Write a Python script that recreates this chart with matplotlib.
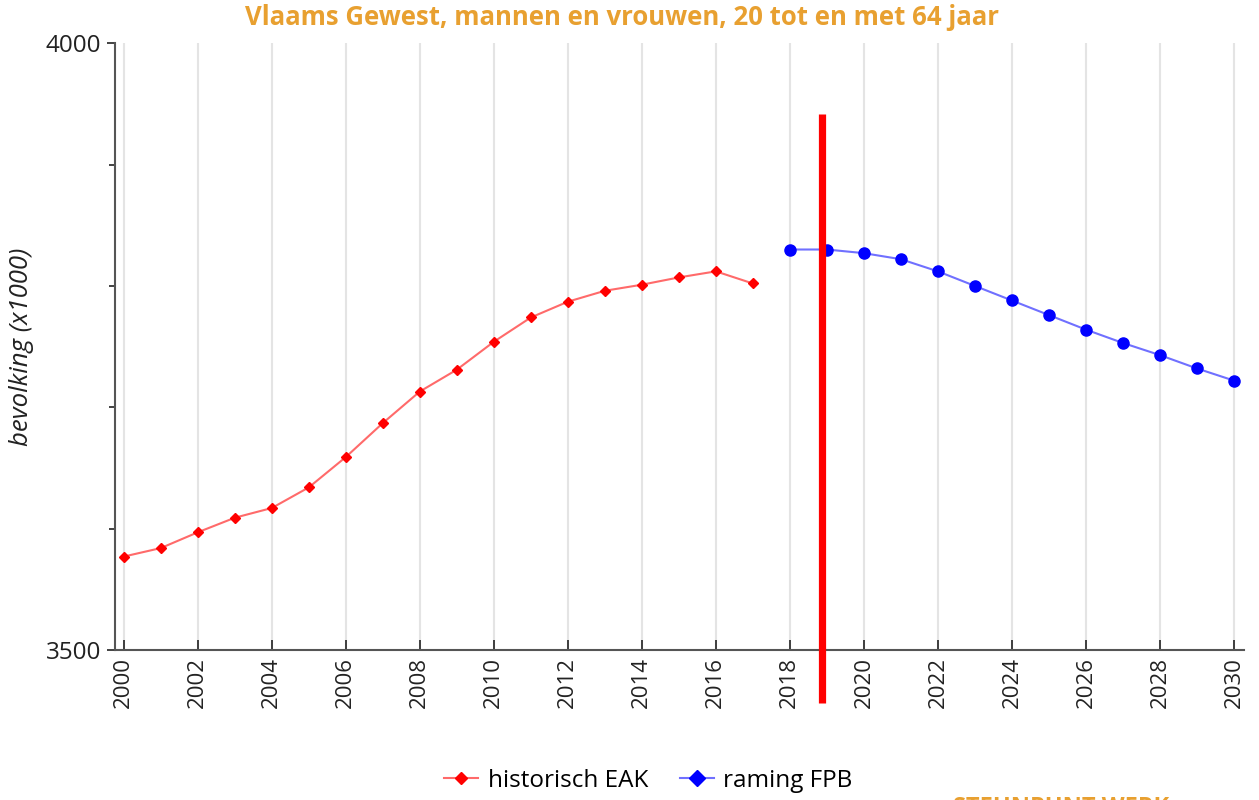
import matplotlib
matplotlib.use("Agg")
import matplotlib.pyplot as plt
from matplotlib.ticker import MultipleLocator

plt.rcParams['font.family'] = ['Open Sans', 'DejaVu Sans']

# historisch EAK (2000-2017), raming FPB (2018-2030), bevolking x1000
hist_years = list(range(2000, 2018))
hist_values = [3577, 3584, 3597, 3609, 3617, 3634, 3659, 3687, 3713,
               3731, 3754, 3774, 3787, 3796, 3801, 3807, 3812, 3802]
proj_years = list(range(2018, 2031))
proj_values = [3830, 3830, 3827, 3822, 3812, 3800, 3788, 3776, 3764,
               3753, 3743, 3732, 3722]
marker_year = 2018.86

fig = plt.figure(figsize=(12.59, 8), dpi=100)
ax = fig.add_axes([0.0913, 0.1875, 0.8967, 0.7585])

ax.plot(hist_years, hist_values, color='#ff6a6a', lw=1.5, zorder=3)
ax.plot(hist_years, hist_values, ls='none', marker='D', ms=5, color='red', zorder=4)
ax.plot(proj_years, proj_values, color='#7070ff', lw=1.5, zorder=3)
ax.plot(proj_years, proj_values, ls='none', marker='o', ms=8, color='blue', zorder=4)

# legend handles
ax.plot([], [], color='#ff6a6a', marker='D', ms=6, mfc='red', mec='red', label='historisch EAK')
ax.plot([], [], color='#7070ff', marker='D', ms=8, mfc='blue', mec='blue', label='raming FPB')

ax.plot([marker_year, marker_year], [3456, 3942], color='red', lw=5.2,
        solid_capstyle='butt', clip_on=False, zorder=5)

ax.set_xlim(1999.76, 2030.27)
ax.set_ylim(3500, 4000)
ax.set_xticks(range(2000, 2031, 2))
ax.set_xticklabels([str(y) for y in range(2000, 2031, 2)], rotation=90)
ax.set_yticks([3500, 4000])
ax.yaxis.set_minor_locator(MultipleLocator(100))
ax.tick_params(axis='x', direction='in', length=7, width=1.2, labelsize=16,
               colors='#222222', pad=5)
ax.tick_params(axis='y', which='major', direction='out', length=6, width=1.2,
               labelsize=17.5, colors='#222222', pad=4)
ax.tick_params(axis='y', which='minor', direction='out', length=4, width=1.2,
               colors='#222222')
ax.grid(axis='x', color='#e4e4e4', lw=1.5, zorder=0)

for side in ['top', 'right']:
    ax.spines[side].set_visible(False)
for side in ['left', 'bottom']:
    ax.spines[side].set_color('#555555')
    ax.spines[side].set_linewidth(1.5)

ax.set_ylabel('bevolking (x1000)', fontsize=18.5, style='italic', color='#222222', labelpad=8)

fig.text(0.494, 0.978, 'Vlaams Gewest, mannen en vrouwen, 20 tot en met 64 jaar',
         ha='center', va='center', color='#e8a030', fontsize=18.5, fontweight='bold')

fig.legend(loc='center', bbox_to_anchor=(0.515, 0.024), ncol=2, frameon=False,
           fontsize=17.5, handlelength=1.4, columnspacing=1.3, handletextpad=0.4)

fig.text(0.757, -0.01, 'STEUNPUNT WERK', color='#e8a030', fontsize=17,
         fontweight='bold', ha='left', va='center')

fig.savefig('out.png', dpi=100)
